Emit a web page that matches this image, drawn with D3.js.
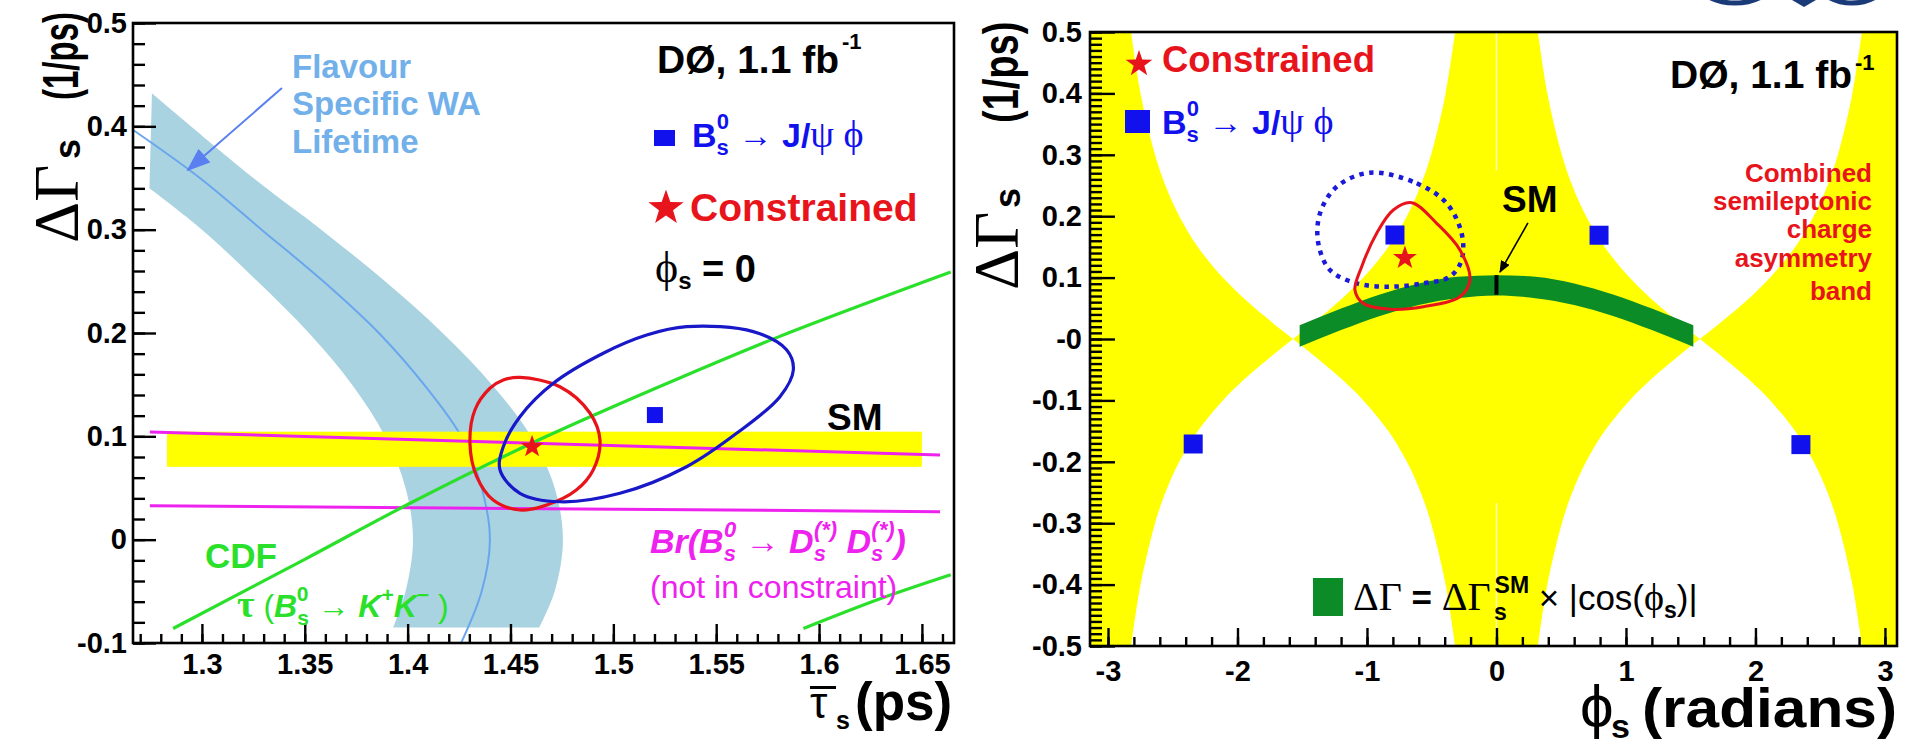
<!DOCTYPE html>
<html lang="en">
<head>
  <title>DØ ΔΓs constraints</title>
  <meta charset="UTF-8">
  <style>
    body { margin: 0; background: #fff; }
    text { font-family: "Liberation Sans", Arial, sans-serif; }
  </style>
  <script src="https://cdn.jsdelivr.net/npm/d3@7"></script>
</head>
<body>
<script>
  // ---------- left panel: mean lifetime vs DeltaGamma ----------
  var tauDomain = [1.2665, 1.6656];
  var dgDomainLeft = [-0.1, 0.5];
  var tauTicks = [1.3, 1.35, 1.4, 1.45, 1.5, 1.55, 1.6, 1.65];
  var dgTicksLeft = [-0.1, 0, 0.1, 0.2, 0.3, 0.4, 0.5];

  // flavour specific world average lifetime band (tau, dGamma)
  var fsOuter = [[1.2757, 0.432], [1.325, 0.35], [1.358, 0.30], [1.389, 0.25], [1.417, 0.20], [1.441, 0.15],
                 [1.460, 0.10], [1.4715, 0.05], [1.4755, 0], [1.4715, -0.05], [1.464, -0.085]];
  var fsInner = [[1.2745, 0.340], [1.300, 0.30], [1.327, 0.25], [1.352, 0.20], [1.373, 0.15], [1.389, 0.10],
                 [1.399, 0.05], [1.4026, 0], [1.399, -0.05], [1.393, -0.085]];
  var fsCentre = [[1.264, 0.40], [1.299, 0.35], [1.329, 0.30], [1.359, 0.25], [1.386, 0.20], [1.408, 0.15],
                  [1.426, 0.10], [1.436, 0.05], [1.44, 0], [1.436, -0.05], [1.426, -0.10]];
  var fsArrow = [[1.3389, 0.437], [1.2932, 0.3577]];

  var smTau = [1.283, 1.65];
  var smDg = [0.0705, 0.1045];

  var brUpper = [[1.2747, 0.1042], [1.6588, 0.0819]];
  var brLower = [[1.2747, 0.0329], [1.6588, 0.0271]];

  var cdfUpper = [[1.286, -0.086], [1.35, -0.019], [1.40, 0.034], [1.46, 0.093], [1.52, 0.146], [1.58, 0.196], [1.664, 0.259]];
  var cdfLower = [[1.5924, -0.086], [1.63, -0.057], [1.664, -0.034]];

  var constrainedTau = [[1.4546, 0.157], [1.474, 0.148], [1.4886, 0.1226], [1.4935, 0.0964], [1.4902, 0.0674],
                        [1.482, 0.048], [1.4676, 0.0335], [1.4546, 0.0287], [1.4416, 0.0384], [1.4336, 0.061],
                        [1.4303, 0.0932], [1.4327, 0.1255], [1.44, 0.1465], [1.4465, 0.1545]];
  var jpsiTau = [[1.5356, 0.2061], [1.568, 0.2013], [1.5843, 0.1835], [1.5875, 0.1642], [1.581, 0.1384],
                 [1.5599, 0.1029], [1.5356, 0.0706], [1.5032, 0.0449], [1.474, 0.0367], [1.4546, 0.0449],
                 [1.4449, 0.0674], [1.4465, 0.09], [1.4546, 0.119], [1.4708, 0.1513], [1.4951, 0.1804],
                 [1.5162, 0.198]];
  var jpsiBestTau = [1.5202, 0.1206];
  var constrainedBestTau = [1.4605, 0.090];

  // ---------- right panel: phi_s vs DeltaGamma ----------
  var phiDomain = [-3.139, 3.093];
  var dgDomainRight = [-0.5, 0.5];
  var phiTicks = [-3, -2, -1, 0, 1, 2, 3];
  var dgTicksRight = [-0.5, -0.4, -0.3, -0.2, -0.1, 0, 0.1, 0.2, 0.3, 0.4, 0.5];

  // edge of the charge asymmetry band (|phi|, |dGamma|), mirrored into each quadrant
  var aslEdge = [[0.320, 0.5], [0.393, 0.4], [0.505, 0.3], [0.585, 0.25], [0.692, 0.2], [0.835, 0.15],
                 [1.028, 0.1], [1.171, 0.07], [1.278, 0.05], [1.392, 0.03], [1.480, 0.015], [1.5708, 0]];
  var aslSeam = [[0.275, 0.5], [-0.5, -0.267]];

  // SM band dGamma = dGamma_SM |cos phi| : phi, low, high
  var smCurve = [[-1.52, -0.0125, 0.0225], [-1.2, 0.0145, 0.0495], [-0.9, 0.0375, 0.0725], [-0.6, 0.0555, 0.0905],
                 [-0.3, 0.0665, 0.1015], [0, 0.071, 0.104], [0.3, 0.0665, 0.1015], [0.6, 0.0555, 0.0905],
                 [0.9, 0.0375, 0.0725], [1.2, 0.0145, 0.0495], [1.52, -0.0125, 0.0225]];
  var smPoint = [0, 0.072, 0.104];
  var smArrow = [[0.243, 0.189], [0.027, 0.109]];

  var jpsiPhi = [[-0.977, 0.2709], [-0.616, 0.2536], [-0.385, 0.221], [-0.269, 0.172], [-0.269, 0.1287],
                 [-0.359, 0.1015], [-0.565, 0.0907], [-0.822, 0.0852], [-1.080, 0.0907], [-1.286, 0.1124],
                 [-1.376, 0.1559], [-1.363, 0.2047], [-1.234, 0.248]];
  var constrainedPhi = [[-0.655, 0.222], [-0.462, 0.1884], [-0.282, 0.145], [-0.205, 0.0961], [-0.282, 0.0689],
                        [-0.565, 0.0526], [-0.822, 0.0484], [-1.029, 0.0581], [-1.093, 0.0798], [-1.041, 0.1178],
                        [-0.925, 0.1722], [-0.797, 0.2101]];
  var jpsiBestPhi = [[-0.784, 0.1694], [0.792, 0.169], [-2.342, -0.171], [2.351, -0.172]];
  var constrainedBestPhi = [-0.707, 0.132];

  // ---------- drawing ----------
  var SANS = "'Liberation Sans', Arial, sans-serif";
  var SERIF = "'Liberation Serif', 'DejaVu Serif', 'Times New Roman', serif";
  var PHI = "\u03d5";
  var RED = "#e8141c", BLUE = "#1111ee", MAGENTA = "#ee22ee", GREEN = "#2ae02a";

  var svg = d3.select("body").append("svg").attr("width", 1905).attr("height", 744);
  var defs = svg.append("defs");

  var boxL = {left: 133, right: 954, top: 23, bottom: 643};
  var boxR = {left: 1090, right: 1897, top: 32, bottom: 646};

  var xL = d3.scaleLinear().domain(tauDomain).range([boxL.left, boxL.right]);
  var yL = d3.scaleLinear().domain(dgDomainLeft).range([boxL.bottom, boxL.top]);
  var xR = d3.scaleLinear().domain(phiDomain).range([boxR.left, boxR.right]);
  var yR = d3.scaleLinear().domain(dgDomainRight).range([boxR.bottom, boxR.top]);

  [["clipL", boxL], ["clipR", boxR]].forEach(function(c) {
    defs.append("clipPath").attr("id", c[0]).append("rect")
      .attr("x", c[1].left).attr("y", c[1].top)
      .attr("width", c[1].right - c[1].left).attr("height", c[1].bottom - c[1].top);
  });

  defs.append("marker").attr("id", "headBlue").attr("markerUnits", "userSpaceOnUse")
    .attr("markerWidth", 24).attr("markerHeight", 18).attr("refX", 22).attr("refY", 9).attr("orient", "auto")
    .append("path").attr("d", "M0,0 L24,9 L0,18 Z").attr("fill", "#5a7ff0");
  defs.append("marker").attr("id", "headBlack").attr("markerUnits", "userSpaceOnUse")
    .attr("markerWidth", 12).attr("markerHeight", 10).attr("refX", 11).attr("refY", 5).attr("orient", "auto")
    .append("path").attr("d", "M0,0 L12,5 L0,10 Z").attr("fill", "#000");

  function starPath(cx, cy, R) {
    var pts = [];
    for (var i = 0; i < 10; i++) {
      var r = i % 2 ? R * 0.4 : R;
      var a = -Math.PI / 2 + i * Math.PI / 5;
      pts.push([cx + r * Math.cos(a), cy + r * Math.sin(a)]);
    }
    return "M" + pts.join("L") + "Z";
  }

  function label(g, x, y, parts, attrs) {
    var t = g.append("text").attr("x", x).attr("y", y);
    Object.keys(attrs || {}).forEach(function(k) { t.attr(k, attrs[k]); });
    parts.forEach(function(p) {
      var s = t.append("tspan").text(p[0]);
      var o = p[1] || {};
      Object.keys(o).forEach(function(k) { s.attr(k, o[k]); });
    });
    return t;
  }

  function drawAxes(g, x, y, o) {
    var bottom = y.range()[0], left = x.range()[0];
    function style(sel) {
      sel.select(".domain").remove();
      sel.selectAll(".tick line").attr("stroke", "#000").attr("stroke-width", 2.4);
      sel.selectAll(".tick text").attr("fill", "#000").attr("font-size", 29)
        .attr("font-weight", "bold").attr("font-family", SANS);
    }
    g.append("g").attr("transform", "translate(0," + bottom + ")")
      .call(d3.axisBottom(x).tickValues(o.xMinor).tickSize(-o.xMinorLen).tickFormat(""))
      .call(style);
    g.append("g").attr("transform", "translate(0," + bottom + ")")
      .call(d3.axisBottom(x).tickValues(o.xTicks).tickSize(-o.xMajorLen).tickPadding(o.xPad).tickFormat(o.xFormat))
      .call(style);
    g.append("g").attr("transform", "translate(" + left + ",0)")
      .call(d3.axisLeft(y).tickValues(o.yMinor).tickSize(-o.yMinorLen).tickFormat(""))
      .call(style);
    g.append("g").attr("transform", "translate(" + left + ",0)")
      .call(d3.axisLeft(y).tickValues(o.yTicks).tickSize(-o.yMajorLen).tickPadding(o.yPad).tickFormat(o.yFormat))
      .call(style);
  }

  // B_s -> J/psi phi legend entry
  function jpsiLabel(g, x, y) {
    label(g, x, y, [
      ["B"], ["s", {"font-size": 22, dy: 8}], ["0", {"font-size": 22, dx: -12, dy: -26}],
      [" \u2192 ", {"font-weight": "normal", dy: 18}], ["J/"],
      ["\u03c8 " + PHI, {"font-family": SERIF, "font-weight": "normal", "font-size": 38}]
    ], {"font-size": 34, "font-weight": "bold", fill: BLUE});
  }

  // rotated DeltaGamma_s (1/ps) title
  function yTitle(g, bx, by, sOff, pOff, pScale) {
    var t = g.append("g").attr("transform", "translate(" + bx + "," + by + ") rotate(-90)");
    label(t, 0, 0, [["\u0394\u0393", {"font-family": SERIF, "font-size": 64}]], {fill: "#000"});
    label(t, sOff, 2, [["s"]], {"font-size": 36, "font-weight": "bold", fill: "#000"});
    var p = t.append("g").attr("transform", "translate(" + pOff + ",0) scale(" + pScale + ",1)");
    label(p, 0, 0, [["(1/ps)"]], {"font-size": 50, "font-weight": "bold", fill: "#000"});
  }

  // ======== left panel ========
  var gL = svg.append("g");
  var plotL = gL.append("g").attr("clip-path", "url(#clipL)");
  var lineL = function(curve) {
    return d3.line().x(function(d) { return xL(d[0]); }).y(function(d) { return yL(d[1]); }).curve(curve);
  };

  var outerD = lineL(d3.curveCatmullRom)(fsOuter);
  var innerD = lineL(d3.curveCatmullRom)(fsInner.slice().reverse());
  plotL.append("path").attr("d", outerD + "L" + innerD.slice(1) + "Z").attr("fill", "#a9d3e1");
  plotL.append("path").attr("d", lineL(d3.curveCatmullRom)(fsCentre))
    .attr("fill", "none").attr("stroke", "#6aa6ee").attr("stroke-width", 2);

  plotL.append("rect")
    .attr("x", xL(smTau[0])).attr("width", xL(smTau[1]) - xL(smTau[0]))
    .attr("y", yL(smDg[1])).attr("height", yL(smDg[0]) - yL(smDg[1]))
    .attr("fill", "#ffff00");

  [brUpper, brLower].forEach(function(d) {
    plotL.append("path").attr("d", lineL(d3.curveLinear)(d))
      .attr("fill", "none").attr("stroke", MAGENTA).attr("stroke-width", 3);
  });
  [cdfUpper, cdfLower].forEach(function(d) {
    plotL.append("path").attr("d", lineL(d3.curveCatmullRom)(d))
      .attr("fill", "none").attr("stroke", GREEN).attr("stroke-width", 3.2);
  });
  plotL.append("path").attr("d", lineL(d3.curveCatmullRomClosed)(constrainedTau))
    .attr("fill", "none").attr("stroke", RED).attr("stroke-width", 3.2);
  plotL.append("path").attr("d", lineL(d3.curveCatmullRomClosed)(jpsiTau))
    .attr("fill", "none").attr("stroke", "#1818c8").attr("stroke-width", 3.2);
  plotL.append("rect").attr("x", xL(jpsiBestTau[0]) - 8).attr("y", yL(jpsiBestTau[1]) - 8)
    .attr("width", 16).attr("height", 16).attr("fill", BLUE);
  plotL.append("path").attr("d", starPath(xL(constrainedBestTau[0]), yL(constrainedBestTau[1]), 12)).attr("fill", RED);

  plotL.append("path").attr("d", lineL(d3.curveLinear)(fsArrow))
    .attr("stroke", "#5a7ff0").attr("stroke-width", 2).attr("marker-end", "url(#headBlue)");

  drawAxes(gL, xL, yL, {
    xTicks: tauTicks, xMinor: d3.range(127, 167).map(function(i) { return i / 100; }),
    xMajorLen: 19, xMinorLen: 9, xPad: 10, xFormat: function(d) { return String(d); },
    yTicks: dgTicksLeft, yMinor: d3.range(-5, 26).map(function(i) { return i * 0.02; }),
    yMajorLen: 23, yMinorLen: 12, yPad: 6, yFormat: function(d) { return String(d); }
  });
  gL.append("rect").attr("x", boxL.left).attr("y", boxL.top)
    .attr("width", boxL.right - boxL.left).attr("height", boxL.bottom - boxL.top)
    .attr("fill", "none").attr("stroke", "#000").attr("stroke-width", 2.6);

  // left texts
  var fsStyle = {fill: "#72b0ea", "font-size": 33, "font-weight": "bold"};
  label(gL, 292, 78, [["Flavour"]], fsStyle);
  label(gL, 292, 115, [["Specific WA"]], fsStyle);
  label(gL, 292, 153, [["Lifetime"]], fsStyle);

  label(gL, 657, 73, [["DØ, 1.1 fb"], ["-1", {"font-size": 22, dy: -24, dx: 3}]],
    {"font-size": 39, "font-weight": "bold", fill: "#000"});

  gL.append("rect").attr("x", 654).attr("y", 130).attr("width", 21).attr("height", 16).attr("fill", BLUE);
  jpsiLabel(gL, 692, 147);

  gL.append("path").attr("d", starPath(666, 208, 18.5)).attr("fill", RED);
  label(gL, 690, 221, [["Constrained"]], {"font-size": 39, "font-weight": "bold", fill: RED});

  label(gL, 655, 282, [
    [PHI, {"font-family": SERIF, "font-weight": "normal", "font-size": 44}],
    ["s", {"font-size": 24, dy: 7}], [" = 0", {dy: -7}]
  ], {"font-size": 38, "font-weight": "bold", fill: "#000"});

  label(gL, 827, 430, [["SM"]], {"font-size": 37, "font-weight": "bold", fill: "#000"});

  label(gL, 650, 553, [
    ["Br(B"], ["s", {"font-size": 22, dy: 8}], ["0", {"font-size": 22, dx: -12, dy: -24}],
    [" \u2192 ", {dy: 16, "font-style": "normal"}], ["D"], ["s", {"font-size": 22, dy: 8}],
    ["(*)", {"font-size": 22, dx: -12, dy: -24}], [" D", {dy: 16}], ["s", {"font-size": 22, dy: 8}],
    ["(*)", {"font-size": 22, dx: -12, dy: -24}], [")", {dy: 16}]
  ], {"font-size": 34, "font-weight": "bold", "font-style": "italic", fill: MAGENTA});
  label(gL, 650, 598, [["(not in constraint)"]], {"font-size": 32, fill: MAGENTA});

  label(gL, 205, 568, [["CDF"]], {"font-size": 35, "font-weight": "bold", fill: GREEN});
  label(gL, 237, 617, [
    ["\u03c4", {"font-family": SERIF, "font-size": 38}], [" (", {"font-weight": "normal"}],
    ["B", {"font-style": "italic"}], ["s", {"font-size": 21, dy: 8}], ["0", {"font-size": 21, dx: -12, dy: -24}],
    [" \u2192 ", {dy: 16, "font-weight": "normal"}], ["K", {"font-style": "italic"}],
    ["+", {"font-size": 21, dy: -15}], ["K", {"font-style": "italic", dy: 15}],
    ["\u2212", {"font-size": 21, dy: -15}], [" )", {dy: 15, "font-weight": "normal"}]
  ], {"font-size": 32, "font-weight": "bold", fill: GREEN});

  // left axis titles: tau with a bar, subscript s, (ps)
  label(gL, 810, 718, [["\u03c4"]], {"font-family": SERIF, "font-size": 44, fill: "#000"});
  gL.append("rect").attr("x", 810).attr("y", 686).attr("width", 26).attr("height", 3).attr("fill", "#000");
  label(gL, 836, 729, [["s"]], {"font-size": 25, "font-weight": "bold", fill: "#000"});
  label(gL, 855, 720, [["(ps)"]], {"font-size": 53, "font-weight": "bold", fill: "#000"});

  yTitle(gL, 78, 243, 84, 143, 0.66);

  // ======== right panel ========
  var gR = svg.append("g");
  var plotR = gR.append("g").attr("clip-path", "url(#clipR)");
  var lineR = function(curve) {
    return d3.line().x(function(d) { return xR(d[0]); }).y(function(d) { return yR(d[1]); }).curve(curve);
  };

  plotR.append("rect").attr("x", boxR.left).attr("y", boxR.top)
    .attr("width", boxR.right - boxR.left).attr("height", boxR.bottom - boxR.top).attr("fill", "#ffff00");

  [[1, 1], [-1, 1], [1, -1], [-1, -1]].forEach(function(q) {
    var inner = aslEdge.map(function(d) { return [q[0] * d[0], q[1] * d[1]]; });
    var outer = aslEdge.slice().reverse().map(function(d) { return [q[0] * (Math.PI - d[0]), q[1] * d[1]]; });
    var a = lineR(d3.curveCatmullRom)(inner);
    var b = lineR(d3.curveCatmullRom)(outer);
    plotR.append("path").attr("d", a + "L" + b.slice(1) + "Z").attr("fill", "#ffffff");
  });
  aslSeam.forEach(function(s) {
    plotR.append("line").attr("x1", xR(0)).attr("x2", xR(0)).attr("y1", yR(s[0])).attr("y2", yR(s[1]))
      .attr("stroke", "#ffffc0").attr("stroke-width", 1.5);
  });

  plotR.append("path")
    .attr("d", d3.area().x(function(d) { return xR(d[0]); })
      .y0(function(d) { return yR(d[1]); }).y1(function(d) { return yR(d[2]); })
      .curve(d3.curveMonotoneX)(smCurve))
    .attr("fill", "#0b8c26");
  plotR.append("line").attr("x1", xR(smPoint[0])).attr("x2", xR(smPoint[0]))
    .attr("y1", yR(smPoint[1])).attr("y2", yR(smPoint[2])).attr("stroke", "#000").attr("stroke-width", 4);

  plotR.append("path").attr("d", lineR(d3.curveCatmullRomClosed)(jpsiPhi))
    .attr("fill", "none").attr("stroke", "#1a1ad8").attr("stroke-width", 4.5).attr("stroke-dasharray", "4.5 5.5");
  plotR.append("path").attr("d", lineR(d3.curveCatmullRomClosed)(constrainedPhi))
    .attr("fill", "none").attr("stroke", RED).attr("stroke-width", 3);
  jpsiBestPhi.forEach(function(p) {
    plotR.append("rect").attr("x", xR(p[0]) - 9.5).attr("y", yR(p[1]) - 9.5)
      .attr("width", 19).attr("height", 19).attr("fill", BLUE);
  });
  plotR.append("path").attr("d", starPath(xR(constrainedBestPhi[0]), yR(constrainedBestPhi[1]), 12.5)).attr("fill", RED);
  plotR.append("path").attr("d", lineR(d3.curveLinear)(smArrow))
    .attr("stroke", "#000").attr("stroke-width", 1.6).attr("marker-end", "url(#headBlack)");

  drawAxes(gR, xR, yR, {
    xTicks: phiTicks, xMinor: d3.range(-15, 16).map(function(i) { return i / 5; }),
    xMajorLen: 18, xMinorLen: 9, xPad: 14, xFormat: function(d) { return String(d); },
    yTicks: dgTicksRight, yMinor: d3.range(-50, 51).map(function(i) { return i / 100; }),
    yMajorLen: 25, yMinorLen: 12, yPad: 8, yFormat: function(d) { return d === 0 ? "-0" : String(d); }
  });
  gR.append("rect").attr("x", boxR.left).attr("y", boxR.top)
    .attr("width", boxR.right - boxR.left).attr("height", boxR.bottom - boxR.top)
    .attr("fill", "none").attr("stroke", "#000").attr("stroke-width", 2.6);

  // right texts
  gR.append("path").attr("d", starPath(1139, 64, 14)).attr("fill", RED);
  label(gR, 1162, 72, [["Constrained"]], {"font-size": 36.5, "font-weight": "bold", fill: RED});

  gR.append("rect").attr("x", 1125).attr("y", 110).attr("width", 25).attr("height", 23).attr("fill", BLUE);
  jpsiLabel(gR, 1162, 134);

  label(gR, 1670, 88, [["DØ, 1.1 fb"], ["-1", {"font-size": 22, dy: -18, dx: 3}]],
    {"font-size": 39, "font-weight": "bold", fill: "#000"});

  label(gR, 1502, 212, [["SM"]], {"font-size": 37, "font-weight": "bold", fill: "#000"});

  [["Combined", 182], ["semileptonic", 210], ["charge", 238], ["asymmetry", 267], ["band", 300]].forEach(function(l) {
    label(gR, 1872, l[1], [[l[0]]], {"font-size": 26, "font-weight": "bold", fill: RED, "text-anchor": "end"});
  });

  gR.append("rect").attr("x", 1313).attr("y", 578).attr("width", 30).attr("height", 38).attr("fill", "#0b8c26");
  label(gR, 1353, 610, [
    ["\u0394\u0393", {"font-family": SERIF, "font-size": 40}],
    [" = ", {"font-weight": "bold"}],
    ["\u0394\u0393", {"font-family": SERIF, "font-size": 40}],
    ["SM", {"font-size": 23, "font-weight": "bold", dy: -17, dx: 4}],
    ["s", {"font-size": 23, "font-weight": "bold", dx: -35, dy: 27}],
    [" \u00d7 ", {dx: 22, dy: -10}],
    ["|cos("],
    [PHI, {"font-family": SERIF, "font-size": 38}],
    ["s", {"font-size": 23, "font-weight": "bold", dy: 8}],
    [")|", {dy: -8}]
  ], {"font-size": 35, fill: "#000"});

  // right axis titles
  label(gR, 1580, 727, [[PHI]], {"font-family": SERIF, "font-size": 60, fill: "#000"});
  label(gR, 1611, 738, [["s"]], {"font-size": 34, "font-weight": "bold", fill: "#000"});
  label(gR, 1642, 727, [["(radians)"]], {"font-size": 56, "font-weight": "bold", fill: "#000",
    textLength: 255, lengthAdjust: "spacingAndGlyphs"});
  yTitle(gR, 1018, 290, 82, 167, 0.76);

  // experiment logo, cut by the top edge
  var logo = svg.append("g").attr("fill", "none").attr("stroke", "#1b3a78").attr("stroke-width", 5);
  logo.append("ellipse").attr("cx", 1735).attr("cy", -22).attr("rx", 40).attr("ry", 25);
  logo.append("ellipse").attr("cx", 1852).attr("cy", -22).attr("rx", 36).attr("ry", 25);
  svg.append("path").attr("d", "M1792,0 L1816,0 L1804,7 Z").attr("fill", "#1b3a78");
</script>
</body>
</html>
